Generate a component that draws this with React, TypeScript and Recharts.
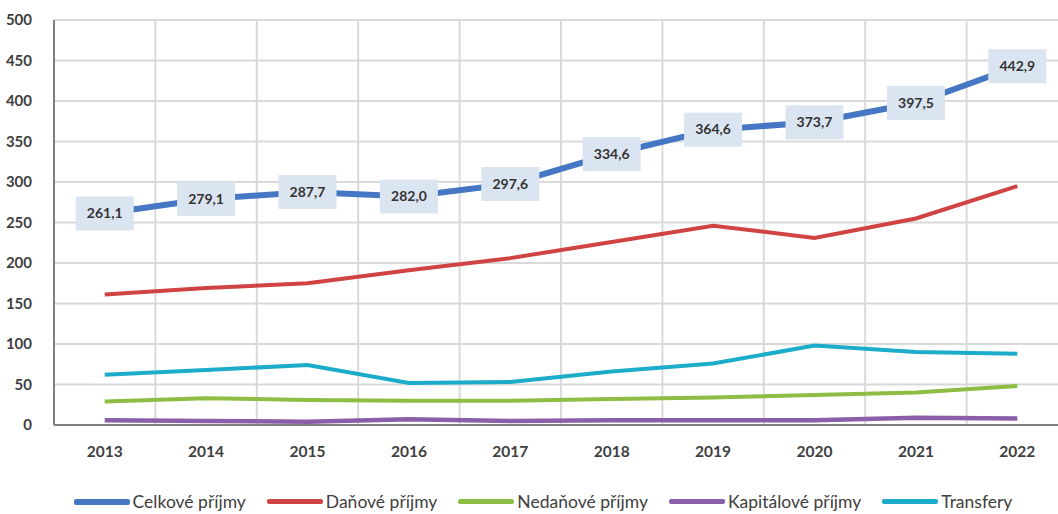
import React from 'react';
import { LineChart, Line, XAxis, YAxis, CartesianGrid, Legend, LabelList } from 'recharts';

const years = ['2013', '2014', '2015', '2016', '2017', '2018', '2019', '2020', '2021', '2022'];
const celkove = [261.1, 279.1, 287.7, 282.0, 297.6, 334.6, 364.6, 373.7, 397.5, 442.9];
const danove = [161, 169, 175, 191, 206, 226, 246, 231, 255, 295];
const nedanove = [29, 33, 31, 30, 30, 32, 34, 37, 40, 48];
const kapitalove = [6, 5, 4, 7, 5, 6, 6, 6, 9, 8];
const transfery = [62, 68, 74, 52, 53, 66, 76, 98, 90, 88];
const yTicks = [0, 50, 100, 150, 200, 250, 300, 350, 400, 450, 500];

const series = [
  { key: 'celkove', name: 'Celkové příjmy', color: '#4677c4', width: 6 },
  { key: 'danove', name: 'Daňové příjmy', color: '#d04343', width: 4 },
  { key: 'nedanove', name: 'Nedaňové příjmy', color: '#8dbd43', width: 4 },
  { key: 'kapitalove', name: 'Kapitálové příjmy', color: '#8a5ea8', width: 4.5 },
  { key: 'transfery', name: 'Transfery', color: '#1cacc9', width: 4 },
];

const data = years.map((y, i) => ({
  year: y,
  celkove: celkove[i],
  danove: danove[i],
  nedanove: nedanove[i],
  kapitalove: kapitalove[i],
  transfery: transfery[i],
}));

const FONT = 'Lato, "Open Sans", sans-serif';

const BoxLabel = (props: any) => {
  const { x, y, value } = props;
  const w = 58;
  const h = 34;
  return (
    <g>
      <rect x={x - w / 2} y={y - h / 2} width={w} height={h} fill="#dbe5f1" />
      <text x={x} y={y + 1} textAnchor="middle" dominantBaseline="middle" fontSize={14} fontWeight={700} fill="#333" fontFamily={FONT}>
        {Number(value).toFixed(1).replace('.', ',')}
      </text>
    </g>
  );
};

const LegendContent = () => (
  <div style={{ display: 'flex', justifyContent: 'center', alignItems: 'center', gap: 21, fontFamily: FONT, fontSize: 17.5, color: '#404040', paddingLeft: 18, paddingTop: 14, height: 25 }}>
    {series.map((s) => (
      <div key={s.key} style={{ display: 'flex', alignItems: 'center' }}>
        <div style={{ width: 56, height: s.key === 'celkove' ? 6 : 5, background: s.color, borderRadius: 2, marginRight: 3 }} />
        <span>{s.name}</span>
      </div>
    ))}
  </div>
);

export default function App() {
  const drawOrder = ['transfery', 'kapitalove', 'nedanove', 'danove', 'celkove'];
  return (
    <div style={{ position: 'absolute', left: 0, top: 0, width: 1058, height: 514, overflow: 'hidden', background: '#fff' }}>
      <LineChart width={1070} height={514} data={data} margin={{ top: 20, right: 2, left: 0, bottom: 0 }}>
        <CartesianGrid
          stroke="#d9d9d9"
          strokeWidth={2}
          verticalCoordinatesGenerator={({ offset }: any) =>
            years.map((_, i) => offset.left + (i * offset.width) / years.length).concat([offset.left + offset.width])
          }
        />
        <XAxis
          dataKey="year"
          scale="band"
          height={50}
          tickLine={false}
          axisLine={{ stroke: '#7f7f7f', strokeWidth: 2 }}
          tick={{ fill: '#404040', fontSize: 15.5, fontFamily: FONT, fontWeight: 700 }}
          tickMargin={15}
        />
        <YAxis
          width={54}
          domain={[0, 500]}
          ticks={yTicks}
          tickLine={false}
          axisLine={{ stroke: '#7f7f7f', strokeWidth: 2 }}
          tick={{ fill: '#404040', fontSize: 15, fontFamily: FONT, fontWeight: 700 }}
          tickMargin={16}
        />
        <Legend verticalAlign="bottom" height={39} content={<LegendContent />} />
        {drawOrder.map((k) => {
          const s = series.find((x) => x.key === k)!;
          return (
            <Line
              key={k}
              type="linear"
              dataKey={k}
              name={s.name}
              stroke={s.color}
              strokeWidth={s.width}
              dot={false}
              activeDot={false}
              isAnimationActive={false}
            >
              {k === 'celkove' ? <LabelList dataKey="celkove" content={<BoxLabel />} /> : null}
            </Line>
          );
        })}
      </LineChart>
    </div>
  );
}
